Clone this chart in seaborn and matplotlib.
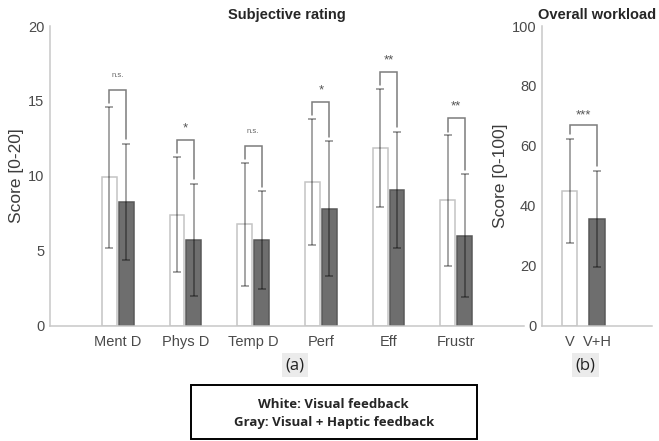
import matplotlib
matplotlib.use("Agg")
import matplotlib.pyplot as plt
import seaborn as sns
import pandas as pd
import numpy as np
from matplotlib.patches import Rectangle

# ---------------- data ----------------
categories = ["Ment D", "Phys D", "Temp D", "Perf", "Eff", "Frustr"]
visual_mean = [9.9, 7.4, 6.75, 9.6, 11.85, 8.35]
visual_sd = [4.7, 3.85, 4.1, 4.2, 3.95, 4.35]
haptic_mean = [8.25, 5.7, 5.7, 7.8, 9.05, 6.0]
haptic_sd = [3.9, 3.75, 3.25, 4.5, 3.9, 4.1]
sig_labels = ["n.s.", "*", "n.s.", "*", "**", "**"]

overall_categories = ["V", "V+H"]
overall_mean = [45.0, 35.5]
overall_sd = [17.3, 16.0]
overall_sig = "***"

left_title = "Subjective rating"
right_title = "Overall workload"
left_ylabel = "Score [0-20]"
right_ylabel = "Score [0-100]"
legend_lines = ["White: Visual feedback", "Gray: Visual + Haptic feedback"]

# ---------------- style ----------------
sns.set_theme(style="white")
plt.rcParams["font.family"] = ["Liberation Sans", "DejaVu Sans"]

W, H = 659, 441
fig = plt.figure(figsize=(W / 100, H / 100), dpi=100)

def px_axes(x0, x1, y0, y1):
    return fig.add_axes([x0 / W, 1 - y1 / H, (x1 - x0) / W, (y1 - y0) / H])

axL = px_axes(50, 524, 26, 325.5)
axR = px_axes(542, 652, 26, 325.5)

WHITE = "white"
GRAY = "#6e6e6e"
WHITE_EDGE = "#c4c4c4"
GRAY_EDGE = "#585858"
SPINE = "#c8c8c8"
TICKTXT = "#4a4a4a"
BRACKET = "#7c7c7c"

# ---------------- left panel ----------------
dfL = pd.DataFrame({
    "cat": categories * 2,
    "score": visual_mean + haptic_mean,
    "cond": ["Visual"] * len(categories) + ["Visual+Haptic"] * len(categories),
})
sns.barplot(data=dfL, x="cat", y="score", hue="cond", order=categories,
            hue_order=["Visual", "Visual+Haptic"],
            palette={"Visual": WHITE, "Visual+Haptic": GRAY},
            width=0.5, gap=0.12, errorbar=None, legend=False, ax=axL,
            linewidth=1.1)
for p in axL.patches:
    fc = p.get_facecolor()
    if fc[0] > 0.9:
        p.set_edgecolor(WHITE_EDGE)
    else:
        p.set_edgecolor(GRAY_EDGE)

off = 0.125
xs = np.arange(len(categories))
axL.errorbar(xs - off, visual_mean, yerr=visual_sd, fmt="none",
             ecolor="black", alpha=0.45, elinewidth=1.1, capsize=2.6,
             capthick=1.1, zorder=5)
axL.errorbar(xs + off, haptic_mean, yerr=haptic_sd, fmt="none",
             ecolor="black", alpha=0.45, elinewidth=1.1, capsize=2.6,
             capthick=1.1, zorder=5)

for i, lab in enumerate(sig_labels):
    t1 = visual_mean[i] + visual_sd[i]
    t2 = haptic_mean[i] + haptic_sd[i]
    top = max(t1, t2) + 1.15
    axL.plot([i - off, i - off, i + off, i + off],
             [t1 + 0.25, top, top, t2 + 0.3],
             color=BRACKET, lw=1.1, solid_joinstyle="miter", zorder=6)
    if lab == "n.s.":
        axL.text(i, top + 0.95, lab, ha="center", va="center",
                 fontsize=5.5, color="#666666")
    else:
        axL.text(i, top + 0.35, lab, ha="center", va="bottom",
                 fontsize=9.5, color="#555555")

axL.set_xlim(-1, 6)
axL.set_ylim(0, 20)
axL.set_yticks([0, 5, 10, 15, 20])
axL.set_xlabel("")
axL.set_ylabel(left_ylabel, fontsize=12.5, color="#3c3c3c", labelpad=3)
axL.set_title(left_title, fontsize=10.5, fontweight="bold", pad=5)

# ---------------- right panel ----------------
dfR = pd.DataFrame({"cat": overall_categories, "score": overall_mean})
sns.barplot(data=dfR, x="cat", y="score", hue="cat", order=overall_categories,
            palette={overall_categories[0]: WHITE, overall_categories[1]: GRAY},
            width=0.55, errorbar=None, legend=False, ax=axR, linewidth=1.1)
for p in axR.patches:
    fc = p.get_facecolor()
    p.set_edgecolor(WHITE_EDGE if fc[0] > 0.9 else GRAY_EDGE)

xr = np.arange(len(overall_categories))
axR.errorbar(xr, overall_mean, yerr=overall_sd, fmt="none", ecolor="black",
             alpha=0.45, elinewidth=1.1, capsize=2.6, capthick=1.1, zorder=5)
r1 = overall_mean[0] + overall_sd[0]
r2 = overall_mean[1] + overall_sd[1]
rtop = max(r1, r2) + 4.7
axR.plot([0, 0, 1, 1], [r1 + 1.7, rtop, rtop, r2 + 1.7], color=BRACKET,
         lw=1.1, solid_joinstyle="miter", zorder=6)
axR.text(0.5, rtop + 1.2, overall_sig, ha="center", va="bottom",
         fontsize=9.5, color="#555555")

axR.set_xlim(-1, 3)
axR.set_ylim(0, 100)
axR.set_yticks([0, 20, 40, 60, 80, 100])
axR.set_xlabel("")
axR.set_ylabel(right_ylabel, fontsize=12.5, color="#3c3c3c", labelpad=3)
axR.set_title(right_title, fontsize=10.5, fontweight="bold", pad=5)

for ax in (axL, axR):
    sns.despine(ax=ax)
    for s in ("left", "bottom"):
        ax.spines[s].set_color(SPINE)
        ax.spines[s].set_linewidth(1.1)
    ax.tick_params(axis="y", direction="in", length=3, width=0.8,
                   color=SPINE, labelsize=10.5, labelcolor=TICKTXT, pad=4)
    ax.tick_params(axis="x", length=0, labelsize=10.5, labelcolor=TICKTXT,
                   pad=7)
    ax.grid(False)
    ax.set_facecolor("white")

# ---------------- panel labels & legend box ----------------
box = dict(boxstyle="square,pad=0.22", facecolor="#ebebeb", edgecolor="none")
fig.text(295 / W, 1 - 365 / H, "(a)", ha="center", va="center",
         fontsize=12, family=["Open Sans", "DejaVu Sans"], color="#222222",
         bbox=box)
fig.text(585.5 / W, 1 - 365 / H, "(b)", ha="center", va="center",
         fontsize=12, family=["Open Sans", "DejaVu Sans"], color="#222222",
         bbox=box)

fig.patches.append(Rectangle((190.7 / W, 1 - 439 / H), 286 / W, 54 / H,
                             transform=fig.transFigure, fill=False,
                             edgecolor="black", linewidth=1.4))
fig.text(333.7 / W, 1 - 405 / H, legend_lines[0], ha="center", va="center",
         fontsize=9.5, fontweight="bold", family=["Open Sans", "DejaVu Sans"])
fig.text(333.7 / W, 1 - 422.7 / H, legend_lines[1], ha="center", va="center",
         fontsize=9.5, fontweight="bold", family=["Open Sans", "DejaVu Sans"])

fig.savefig("out.png", dpi=100, facecolor="white")
